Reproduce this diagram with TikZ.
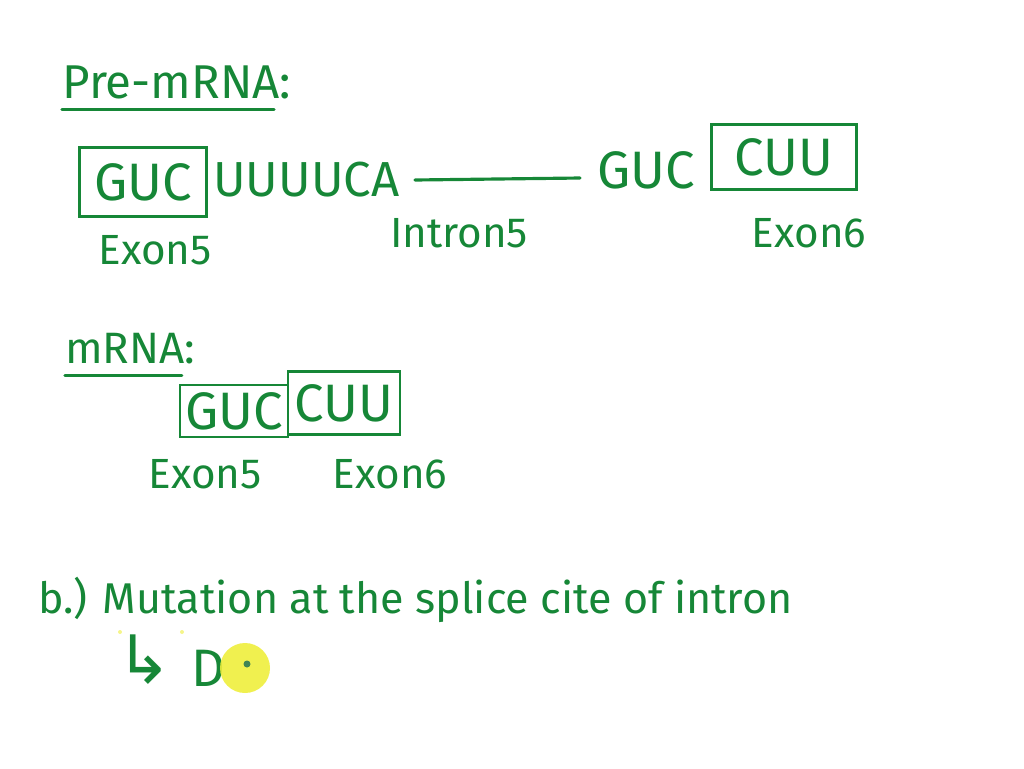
\documentclass[tikz,border=0pt]{standalone}
\usepackage{fontspec}
\setmainfont{Fira Sans}
\newfontfamily\arrowfont{DejaVu Sans}
\definecolor{ink}{RGB}{22,135,55}
\definecolor{cursor}{RGB}{238,238,60}
\tikzset{
  hand/.style={text=ink, inner sep=0pt, font=\fontsize{30}{34}\selectfont},
  small hand/.style={hand, font=\fontsize{24}{28}\selectfont},
  exbox/.style={draw=ink, line width=1.6pt, inner sep=0pt},
  stroke/.style={draw=ink, line width=1.8pt, line cap=round}
}
\begin{document}
\begin{tikzpicture}[x=0.02cm,y=-0.02cm]
  \useasboundingbox (0,0) rectangle (1024,768);

  % pre-mRNA
  \node[hand,anchor=west,font=\fontsize{27}{32}\selectfont] (pre) at (62,82) {Pre-mRNA:};
  \draw[stroke] ([yshift=-6pt]pre.south west) -- ([yshift=-6pt,xshift=-10pt]pre.south east);

  \node[hand,exbox,minimum width=2.54cm,minimum height=1.38cm] (exA) at (143,182) {GUC};
  \node[hand,anchor=west,font=\fontsize{28}{32}\selectfont] (ucA) at (213,180) {UUUUCA};
  \node[hand] (guc) at (646,170) {GUC};
  \node[hand,exbox,minimum width=2.9cm,minimum height=1.3cm] (exB) at (784,157) {CUU};
  \coordinate (l1) at (415,180);
  \coordinate (l2) at (580,178);
  \draw[stroke] (l1) -- (l2);

  \node[small hand] (exAlab) at (155,250) {Exon5};
  \node[small hand] (intlab) at (459,233) {Intron5};
  \node[small hand] (exBlab) at (809,233) {Exon6};

  % mRNA
  \node[hand,anchor=west,font=\fontsize{25}{30}\selectfont] (mat) at (65,349) {mRNA:};
  \draw[stroke] ([yshift=-6pt]mat.south west) -- ([yshift=-6pt,xshift=-8pt]mat.south east);

  \node[hand,exbox,minimum width=2.16cm,minimum height=1.04cm] (exC) at (234,411) {GUC};
  \node[hand,exbox,minimum width=2.24cm,minimum height=1.26cm] (exD) at (344,403) {CUU};
  \node[small hand] (exClab) at (205,474) {Exon5};
  \node[small hand] (exDlab) at (390,474) {Exon6};

  % b)
  \node[hand,anchor=west,font=\fontsize{24.5}{30}\selectfont] (mut) at (38,600) {b.) Mutation at the splice cite of intron};
  \fill[cursor!60] (120,632) circle (2) (182,632) circle (2);
  \node[hand,anchor=west,font=\fontsize{38}{40}\selectfont] (arr) at (116,660) {\arrowfont ↳};
  \node[hand] (dl) at (208,668) {D};
  \fill[cursor,opacity=0.9] (245,668) circle (25);
  \fill[ink!60!gray] (247,664) circle (3.5);
\end{tikzpicture}
\end{document}
